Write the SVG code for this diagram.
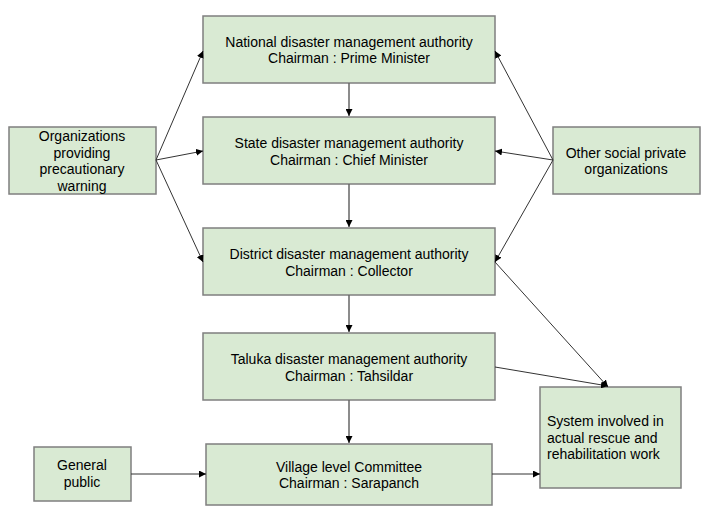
<svg xmlns="http://www.w3.org/2000/svg" width="710" height="516" viewBox="0 0 710 516">
<defs>
<marker id="ah" viewBox="0 0 10 10" refX="10" refY="5" markerWidth="7" markerHeight="7" markerUnits="userSpaceOnUse" orient="auto"><path d="M0,0 L10,5 L0,10 z" fill="#000"/></marker>
<style>
.box{fill:#d9ead3;stroke:#7f7f7f;stroke-width:1.5}
text{font-family:"Liberation Sans",Arial,sans-serif;font-size:14px;fill:#000}
.c{text-anchor:middle}
.ln{stroke:#333;stroke-width:1;fill:none;marker-end:url(#ah)}
.lv{stroke:#666;stroke-width:1.5;fill:none;marker-end:url(#ah)}
</style>
</defs>
<rect width="710" height="516" fill="#fff"/>
<g id="national"><rect class="box" x="203" y="16" width="292" height="67"/><text class="c" x="349" y="47">National disaster management authority</text><text class="c" x="349" y="63">Chairman : Prime Minister</text></g>
<g id="state"><rect class="box" x="203" y="117" width="292" height="67"/><text class="c" x="349" y="148">State disaster management authority</text><text class="c" x="349" y="165">Chairman : Chief Minister</text></g>
<g id="district"><rect class="box" x="203" y="228" width="292" height="67"/><text class="c" x="349" y="259">District disaster management authority</text><text class="c" x="349" y="276">Chairman : Collector</text></g>
<g id="taluka"><rect class="box" x="203" y="333" width="292" height="67"/><text class="c" x="349" y="364">Taluka disaster management authority</text><text class="c" x="349" y="381">Chairman : Tahsildar</text></g>
<g id="village"><rect class="box" x="206" y="444" width="286" height="61"/><text class="c" x="349" y="472">Village level Committee</text><text class="c" x="349" y="488">Chairman : Sarapanch</text></g>
<g id="orgs"><rect class="box" x="9" y="127" width="147" height="67"/><text class="c" x="82" y="141">Organizations</text><text class="c" x="82" y="158">providing</text><text class="c" x="82" y="174">precautionary</text><text class="c" x="82" y="191">warning</text></g>
<g id="other"><rect class="box" x="553" y="127" width="147" height="67"/><text class="c" x="626" y="158">Other social private</text><text class="c" x="626" y="174">organizations</text></g>
<g id="system"><rect class="box" x="540" y="387" width="141" height="101"/><text x="547" y="426">System involved in</text><text x="547" y="443">actual rescue and</text><text x="547" y="459">rehabilitation work</text></g>
<g id="public"><rect class="box" x="34" y="447" width="97" height="54"/><text class="c" x="82" y="470">General</text><text class="c" x="82" y="487">public</text></g>
<g id="connectors">
<line class="lv" x1="349" y1="83" x2="349" y2="116"/>
<line class="lv" x1="349" y1="184" x2="349" y2="227"/>
<line class="lv" x1="349" y1="295" x2="349" y2="332"/>
<line class="lv" x1="349" y1="400" x2="349" y2="443"/>
<line class="ln" x1="156" y1="160" x2="203" y2="51"/>
<line class="ln" x1="156" y1="160" x2="203" y2="151"/>
<line class="ln" x1="156" y1="160" x2="203" y2="262"/>
<line class="ln" x1="553" y1="160" x2="495" y2="51"/>
<line class="ln" x1="553" y1="160" x2="495" y2="151"/>
<line class="ln" x1="553" y1="160" x2="495" y2="262"/>
<line class="ln" x1="495" y1="262" x2="608" y2="387"/>
<line class="ln" x1="495" y1="367" x2="608" y2="386"/>
<line class="ln" x1="492" y1="474" x2="540" y2="474"/>
<line class="ln" x1="131" y1="474" x2="206" y2="474"/>
</g>
</svg>
